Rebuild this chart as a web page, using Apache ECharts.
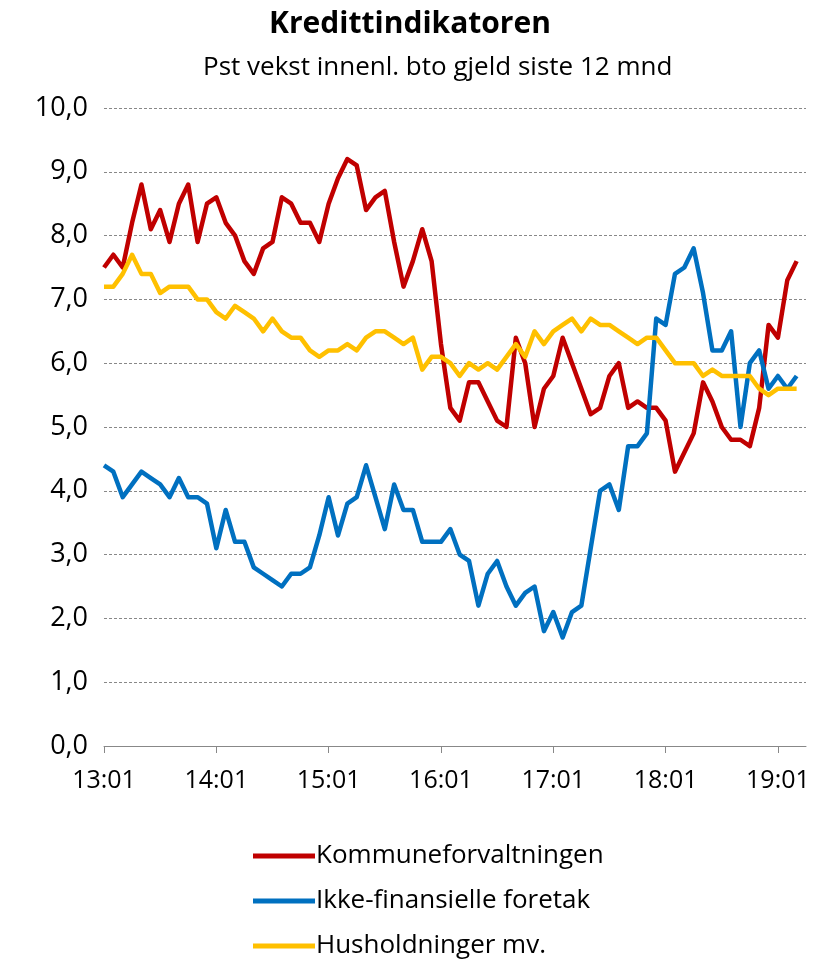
<!DOCTYPE html>
<html>
<head>
<meta charset="utf-8">
<script src="https://cdn.jsdelivr.net/npm/echarts@6/dist/echarts.min.js"></script>
<style>
  html, body { margin: 0; padding: 0; background: #fff; }
  #main { width: 820px; height: 960px; }
</style>
</head>
<body>
<div id="main"></div>
<script>
// månedlige kategorier 13:01 - 19:04 (siste er tom, aksen går litt forbi siste punkt)
const months = []
for (let y = 13; y <= 19; y++) {
  for (let m = 1; m <= 12; m++) {
    if (y === 19 && m > 4) break
    months.push(y + ':' + (m < 10 ? '0' + m : m))
  }
}

const kommune = [
  7.5, 7.7, 7.5, 8.2, 8.8, 8.1, 8.4, 7.9, 8.5, 8.8, 7.9, 8.5,
  8.6, 8.2, 8.0, 7.6, 7.4, 7.8, 7.9, 8.6, 8.5, 8.2, 8.2, 7.9,
  8.5, 8.9, 9.2, 9.1, 8.4, 8.6, 8.7, 7.9, 7.2, 7.6, 8.1, 7.6,
  6.3, 5.3, 5.1, 5.7, 5.7, 5.4, 5.1, 5.0, 6.4, 6.0, 5.0, 5.6,
  5.8, 6.4, 6.0, 5.6, 5.2, 5.3, 5.8, 6.0, 5.3, 5.4, 5.3, 5.3,
  5.1, 4.3, 4.6, 4.9, 5.7, 5.4, 5.0, 4.8, 4.8, 4.7, 5.3, 6.6,
  6.4, 7.3, 7.6
]
const foretak = [
  4.4, 4.3, 3.9, 4.1, 4.3, 4.2, 4.1, 3.9, 4.2, 3.9, 3.9, 3.8,
  3.1, 3.7, 3.2, 3.2, 2.8, 2.7, 2.6, 2.5, 2.7, 2.7, 2.8, 3.3,
  3.9, 3.3, 3.8, 3.9, 4.4, 3.9, 3.4, 4.1, 3.7, 3.7, 3.2, 3.2,
  3.2, 3.4, 3.0, 2.9, 2.2, 2.7, 2.9, 2.5, 2.2, 2.4, 2.5, 1.8,
  2.1, 1.7, 2.1, 2.2, 3.1, 4.0, 4.1, 3.7, 4.7, 4.7, 4.9, 6.7,
  6.6, 7.4, 7.5, 7.8, 7.1, 6.2, 6.2, 6.5, 5.0, 6.0, 6.2, 5.6,
  5.8, 5.6, 5.8
]
const husholdninger = [
  7.2, 7.2, 7.4, 7.7, 7.4, 7.4, 7.1, 7.2, 7.2, 7.2, 7.0, 7.0,
  6.8, 6.7, 6.9, 6.8, 6.7, 6.5, 6.7, 6.5, 6.4, 6.4, 6.2, 6.1,
  6.2, 6.2, 6.3, 6.2, 6.4, 6.5, 6.5, 6.4, 6.3, 6.4, 5.9, 6.1,
  6.1, 6.0, 5.8, 6.0, 5.9, 6.0, 5.9, 6.1, 6.3, 6.1, 6.5, 6.3,
  6.5, 6.6, 6.7, 6.5, 6.7, 6.6, 6.6, 6.5, 6.4, 6.3, 6.4, 6.4,
  6.2, 6.0, 6.0, 6.0, 5.8, 5.9, 5.8, 5.8, 5.8, 5.8, 5.6, 5.5,
  5.6, 5.6, 5.6
]

const font = 'Open Sans'
const myChart = echarts.init(document.getElementById('main'))
const yearTick = (i) => i % 12 === 0

function lineSeries (name, data, color) {
  return {
    name: name,
    type: 'line',
    data: data,
    showSymbol: false,
    symbol: 'none',
    lineStyle: { color: color, width: 4.5, join: 'round' },
    itemStyle: { color: color }
  }
}

let option = {
  animation: false,
  title: [
    {
      text: 'Kredittindikatoren',
      left: 'center',
      top: 4,
      textStyle: { fontFamily: font, fontSize: 30, fontWeight: 'bold', color: '#000' }
    },
    {
      text: 'Pst vekst innenl. bto gjeld siste 12 mnd',
      left: 198,
      top: 50,
      textStyle: { fontFamily: font, fontSize: 26, fontWeight: 'normal', color: '#000' }
    }
  ],
  grid: { left: 104, right: 14, top: 108, bottom: 214 },
  xAxis: {
    type: 'category',
    data: months,
    boundaryGap: false,
    axisLine: { lineStyle: { color: '#888', width: 1 } },
    axisTick: { interval: (i) => yearTick(i), length: 7, lineStyle: { color: '#888' } },
    axisLabel: {
      interval: (i) => yearTick(i),
      fontFamily: font, fontSize: 25, color: '#000', margin: 22
    },
    splitLine: { show: false }
  },
  yAxis: {
    type: 'value',
    min: 0, max: 10, interval: 1,
    axisLine: { show: false },
    axisTick: { show: false },
    axisLabel: {
      fontFamily: font, fontSize: 27, color: '#000', margin: 16,
      formatter: (v) => v.toFixed(1).replace('.', ',')
    },
    splitLine: { lineStyle: { color: '#888', type: [3, 2], width: 1 } }
  },
  legend: {
    orient: 'vertical',
    left: 248,
    top: 838,
    height: 122,
    itemWidth: 62,
    itemHeight: 5,
    itemGap: 19,
    icon: 'rect',
    textStyle: { fontFamily: font, fontSize: 26, lineHeight: 26, color: '#000', padding: [0, 0, 0, -4] },
    data: ['Kommuneforvaltningen', 'Ikke-finansielle foretak', 'Husholdninger mv.']
  },
  series: [
    lineSeries('Kommuneforvaltningen', kommune, '#C00000'),
    lineSeries('Ikke-finansielle foretak', foretak, '#0070C0'),
    lineSeries('Husholdninger mv.', husholdninger, '#FFC000')
  ]
}
myChart.setOption(option)
</script>
</body>
</html>
